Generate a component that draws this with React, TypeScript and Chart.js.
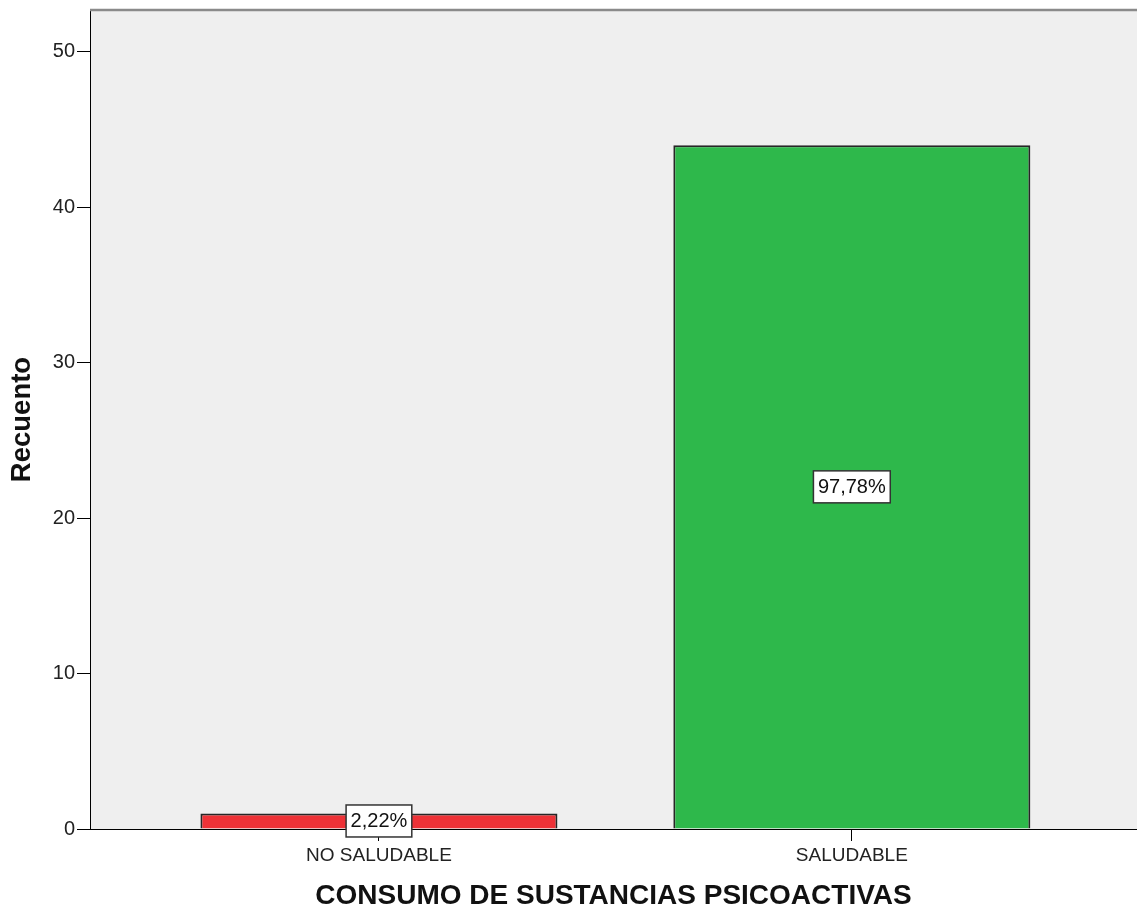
import React, { useEffect, useRef } from "react";
import { Chart, registerables } from "chart.js";

Chart.register(...registerables);

// Frequencies of the psychoactive-substance-use classification
const categories = ["NO SALUDABLE", "SALUDABLE"];
const counts = [1, 44];
const barColors = ["#ee3237", "#2eb84b"];
const yTicks = [0, 10, 20, 30, 40, 50];
const yMax = 52.7;
const xMin = -0.611;
const xMax = 1.603;

const total = counts.reduce((a, b) => a + b, 0);
const pctLabel = (v: number) => ((v / total) * 100).toFixed(2).replace(".", ",") + "%";

const FONT = "'Liberation Sans', Arial, Helvetica, sans-serif";

// Grey plot background
const plotBackground = {
  id: "plotBackground",
  beforeDraw(chart: any) {
    const { ctx, chartArea } = chart;
    ctx.save();
    ctx.fillStyle = "#efefef";
    ctx.fillRect(chartArea.left, chartArea.top, chartArea.right - chartArea.left, chartArea.bottom - chartArea.top);
    ctx.restore();
  },
};

// Grey frame line along the top of the plot
const topFrame = {
  id: "topFrame",
  afterDraw(chart: any) {
    const { ctx, chartArea } = chart;
    ctx.save();
    ctx.strokeStyle = "#8a8a8a";
    ctx.lineWidth = 2.5;
    ctx.beginPath();
    ctx.moveTo(chartArea.left, chartArea.top);
    ctx.lineTo(chartArea.right, chartArea.top);
    ctx.stroke();
    ctx.restore();
  },
};

// Boxed percentage labels at the middle of each bar
const percentBoxes = {
  id: "percentBoxes",
  afterDatasetsDraw(chart: any) {
    const { ctx } = chart;
    const meta = chart.getDatasetMeta(0);
    ctx.save();
    ctx.font = `20px ${FONT}`;
    ctx.textAlign = "center";
    ctx.textBaseline = "middle";
    meta.data.forEach((bar: any, i: number) => {
      const text = pctLabel(counts[i]);
      const cx = bar.x;
      const cy = (bar.y + bar.base) / 2;
      const w = ctx.measureText(text).width + 9;
      const h = 32;
      ctx.fillStyle = "#ffffff";
      ctx.fillRect(cx - w / 2, cy - h / 2, w, h);
      ctx.strokeStyle = "#333333";
      ctx.lineWidth = 1.5;
      ctx.strokeRect(cx - w / 2, cy - h / 2, w, h);
      ctx.fillStyle = "#111111";
      ctx.fillText(text, cx, cy + 1);
    });
    ctx.restore();
  },
};

export default function App() {
  const canvasRef = useRef<HTMLCanvasElement | null>(null);

  useEffect(() => {
    document.body.style.margin = "0";
    const canvas = canvasRef.current;
    if (!canvas) return;
    const chart = new Chart(canvas, {
      type: "bar",
      data: {
        datasets: [
          {
            data: counts.map((c, i) => ({ x: i, y: c })),
            backgroundColor: barColors,
            borderColor: "#262626",
            borderWidth: 2,
            categoryPercentage: 1,
            barPercentage: 0.755,
          },
        ],
      },
      options: {
        animation: false,
        responsive: false,
        devicePixelRatio: 1,
        layout: { padding: { top: 10, left: 0, right: 0, bottom: 0 } },
        plugins: {
          legend: { display: false },
          tooltip: { enabled: false },
        },
        scales: {
          x: {
            type: "linear",
            min: xMin,
            max: xMax,
            offset: false,
            afterFit(scale: any) {
              scale.height = 86;
              scale.paddingLeft = 0;
              scale.paddingRight = 0;
            },
            afterBuildTicks(scale: any) {
              scale.ticks = categories.map((_, i) => ({ value: i }));
            },
            grid: {
              offset: false,
              drawOnChartArea: false,
              drawTicks: true,
              tickLength: 12,
              tickColor: "#000000",
              tickWidth: 1,
            },
            border: { display: true, color: "#000000", width: 1 },
            ticks: {
              autoSkip: false,
              maxRotation: 0,
              padding: 3,
              color: "#222222",
              font: { family: FONT, size: 19 },
              callback: (v: any) => categories[Math.round(Number(v))] ?? "",
            },
            title: {
              display: true,
              text: "CONSUMO DE SUSTANCIAS PSICOACTIVAS",
              color: "#111111",
              font: { family: FONT, size: 28, weight: "bold" },
              padding: { top: 0, bottom: 2 },
            },
          },
          y: {
            type: "linear",
            min: 0,
            max: yMax,
            afterFit(scale: any) {
              scale.width = 90;
              scale.paddingTop = 0;
              scale.paddingBottom = 0;
            },
            afterBuildTicks(scale: any) {
              scale.ticks = yTicks.map((v) => ({ value: v }));
            },
            grid: {
              drawOnChartArea: false,
              drawTicks: true,
              tickLength: 13,
              tickColor: "#000000",
              tickWidth: 1,
            },
            border: { display: true, color: "#000000", width: 1 },
            ticks: {
              padding: 2,
              color: "#222222",
              font: { family: FONT, size: 20 },
            },
            title: {
              display: true,
              text: "Recuento",
              color: "#111111",
              font: { family: FONT, size: 27.5, weight: "bold" },
              padding: { top: 6, bottom: 0 },
            },
          },
        },
      },
      plugins: [plotBackground, topFrame, percentBoxes],
    } as any);
    return () => chart.destroy();
  }, []);

  return (
    <div style={{ position: "absolute", left: 0, top: 0, width: 1137, height: 915 }}>
      <canvas ref={canvasRef} width={1137} height={915} />
    </div>
  );
}
